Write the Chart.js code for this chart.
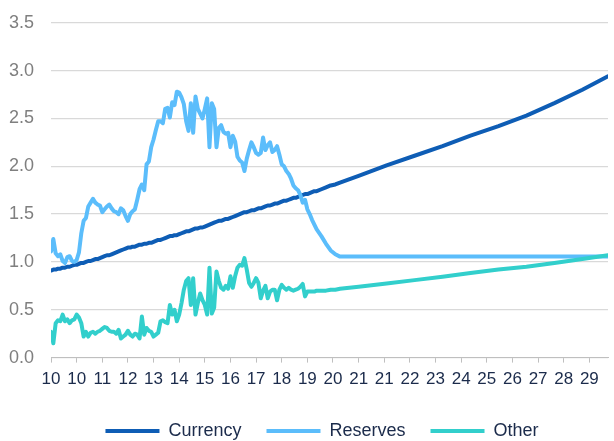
<!DOCTYPE html>
<html>
<head>
<meta charset="utf-8">
<script src="https://cdn.jsdelivr.net/npm/chart.js@4/dist/chart.umd.min.js"></script>
<style>
  html, body { margin: 0; padding: 0; background: #fff; }
  #wrap { width: 614px; height: 441px; }
</style>
</head>
<body>
<div id="wrap"><canvas id="chart"></canvas></div>
<script>
// Monthly history from Jan 2010 (month 0) to Mar 2019 (month 110),
// then projection points out to Dec 2029 (month 239).

const histCurrency = [
  0.91, 0.92, 0.92, 0.93, 0.93, 0.94, 0.94, 0.95, 0.95, 0.96, 0.97,
  0.97, 0.98, 0.99, 0.99, 1.00, 1.01, 1.01, 1.02, 1.03, 1.03, 1.04,
  1.05, 1.06, 1.07, 1.07, 1.08, 1.09, 1.10, 1.11, 1.12, 1.13, 1.14,
  1.15, 1.15, 1.16, 1.16, 1.17, 1.18, 1.18, 1.19, 1.19, 1.20, 1.20,
  1.21, 1.22, 1.23, 1.23, 1.24, 1.25, 1.26, 1.27, 1.27, 1.28, 1.28,
  1.29, 1.30, 1.31, 1.32, 1.32, 1.33, 1.34, 1.35, 1.35, 1.36, 1.36,
  1.37, 1.38, 1.39, 1.40, 1.41, 1.42, 1.43, 1.43, 1.44, 1.45, 1.45,
  1.46, 1.47, 1.48, 1.49, 1.50, 1.51, 1.52, 1.52, 1.53, 1.54, 1.54,
  1.55, 1.56, 1.56, 1.57, 1.58, 1.59, 1.59, 1.60, 1.61, 1.61, 1.62,
  1.63, 1.64, 1.64, 1.65, 1.66, 1.67, 1.67, 1.68, 1.69, 1.70, 1.71, 1.71
];

const histReserves = [
  1.11, 1.24, 1.09, 1.06, 1.08, 1.01, 0.99, 1.05, 1.06, 1.01, 1.00,
  1.02, 1.10, 1.30, 1.43, 1.46, 1.58, 1.62, 1.66, 1.62, 1.60, 1.59,
  1.52, 1.55, 1.58, 1.60, 1.56, 1.53, 1.52, 1.50, 1.56, 1.54, 1.48,
  1.43, 1.50, 1.53, 1.55, 1.65, 1.76, 1.81, 1.75, 2.02, 2.05, 2.20,
  2.28, 2.38, 2.47, 2.47, 2.45, 2.60, 2.61, 2.51, 2.67, 2.64, 2.78,
  2.77, 2.72, 2.65, 2.47, 2.37, 2.66, 2.35, 2.73, 2.60, 2.55, 2.50,
  2.60, 2.71, 2.20, 2.66, 2.60, 2.20, 2.40, 2.43, 2.36, 2.34, 2.35,
  2.20, 2.32, 2.26, 2.10, 2.06, 2.04, 1.95, 2.08, 2.17, 2.25, 2.20,
  2.14, 2.12, 2.14, 2.30, 2.17, 2.22, 2.25, 2.15, 2.17, 2.21, 2.12,
  2.02, 2.00, 1.95, 1.92, 1.87, 1.80, 1.77, 1.75, 1.70, 1.62, 1.65, 1.55
];

const histOther = [
  0.27, 0.15, 0.36, 0.39, 0.38, 0.45, 0.38, 0.40, 0.36, 0.39, 0.40,
  0.45, 0.42, 0.36, 0.22, 0.27, 0.22, 0.26, 0.27, 0.25, 0.27, 0.28,
  0.30, 0.32, 0.31, 0.28, 0.27, 0.27, 0.25, 0.29, 0.20, 0.22, 0.24,
  0.28, 0.24, 0.22, 0.25, 0.24, 0.20, 0.43, 0.24, 0.31, 0.28, 0.27,
  0.22, 0.24, 0.26, 0.38, 0.39, 0.37, 0.36, 0.55, 0.45, 0.50, 0.38,
  0.45, 0.57, 0.71, 0.80, 0.83, 0.55, 0.83, 0.45, 0.57, 0.67, 0.60,
  0.55, 0.45, 0.94, 0.46, 0.52, 0.90, 0.80, 0.73, 0.71, 0.75, 0.72,
  0.85, 0.73, 0.85, 0.94, 0.97, 0.96, 1.04, 0.92, 0.78, 0.74, 0.78,
  0.83, 0.78, 0.62, 0.70, 0.75, 0.62, 0.69, 0.71, 0.71, 0.60, 0.71,
  0.76, 0.73, 0.71, 0.73, 0.71, 0.70, 0.71, 0.72, 0.74, 0.77, 0.64, 0.69
];

// projection months and values
const projMonths    = [111, 112, 113, 114, 116, 118, 120, 122, 124, 132, 144, 156, 168, 180, 192, 204, 216, 228, 239];
const projCurrency  = [1.72, 1.73, 1.74, 1.74, 1.76, 1.78, 1.80, 1.81, 1.83, 1.90, 2.01, 2.11, 2.21, 2.32, 2.42, 2.53, 2.66, 2.80, 2.94];
const projReserves  = [1.50, 1.44, 1.39, 1.34, 1.27, 1.19, 1.12, 1.08, 1.056, 1.056, 1.056, 1.056, 1.056, 1.056, 1.056, 1.056, 1.056, 1.056, 1.056];
const projOther     = [0.69, 0.69, 0.69, 0.70, 0.70, 0.70, 0.71, 0.71, 0.72, 0.74, 0.775, 0.81, 0.845, 0.885, 0.92, 0.95, 0.99, 1.03, 1.07];

// one label every 11 months starting at month 0
const tickLabels = ['10', '10', '11', '12', '13', '14', '15', '16', '17', '18', '19',
                    '20', '21', '21', '22', '23', '24', '25', '26', '27', '28', '29'];

const seriesNames = ['Currency', 'Reserves', 'Other'];
const seriesColors = ['#0e5db5', '#5bbdfb', '#32cfcc'];

const FONT = "'Liberation Sans', Arial, sans-serif";

function toPoints(hist, proj) {
  const pts = hist.map((y, i) => ({ x: i, y }));
  proj.forEach((y, i) => pts.push({ x: projMonths[i], y }));
  return pts;
}

const seriesData = [
  toPoints(histCurrency, projCurrency),
  toPoints(histReserves, projReserves),
  toPoints(histOther, projOther),
];

// nudge the legend row a little right of centre
const legendShift = {
  id: 'legendShift',
  afterLayout(chart) {
    chart.legend.left += 14;
    chart.legend.right += 14;
  },
};

new Chart(document.getElementById('chart'), {
  type: 'line',
  data: {
    datasets: seriesNames.map((name, i) => ({
      label: name,
      data: seriesData[i],
      borderColor: seriesColors[i],
      backgroundColor: seriesColors[i],
      borderWidth: 4,
      pointRadius: 0,
      tension: 0,
      borderJoinStyle: 'round',
      borderCapStyle: 'round',
      order: 3 - i,
    })),
  },
  plugins: [legendShift],
  options: {
    responsive: true,
    maintainAspectRatio: false,
    animation: false,
    layout: { padding: { left: 8, right: 6, top: 0, bottom: -9 } },
    plugins: {
      tooltip: { enabled: false },
      legend: {
        position: 'bottom',
        labels: {
          usePointStyle: true,
          pointStyle: 'line',
          pointStyleWidth: 54,
          boxHeight: 17,
          padding: 25,
          color: '#1b2b4b',
          font: { family: FONT, size: 18 },
          sort: (a, b) => a.datasetIndex - b.datasetIndex,
        },
      },
    },
    scales: {
      x: {
        type: 'linear',
        min: 0,
        max: 239,
        grid: { drawOnChartArea: false, drawTicks: true, tickLength: 5, color: '#bfbfbf' },
        border: { display: true, color: '#bfbfbf', width: 1 },
        ticks: {
          stepSize: 11,
          includeBounds: false,
          autoSkip: false,
          maxRotation: 0,
          padding: 7,
          color: '#1b2b4b',
          font: { family: FONT, size: 17 },
          callback: (value, index) => tickLabels[index] ?? null,
        },
      },
      y: {
        min: 0,
        max: 3.5,
        // invisible tick marks keep the label gap without padding the top
        grid: { color: '#d9d9d9', lineWidth: 1.3, drawTicks: true, tickLength: 5, tickColor: 'rgba(0,0,0,0)' },
        border: { display: false },
        ticks: {
          stepSize: 0.5,
          padding: 12,
          color: '#7f7f7f',
          font: { family: FONT, size: 18 },
          callback: v => v.toFixed(1),
        },
        afterFit(scale) { scale.width = 43; },
      },
    },
  },
});
</script>
</body>
</html>
